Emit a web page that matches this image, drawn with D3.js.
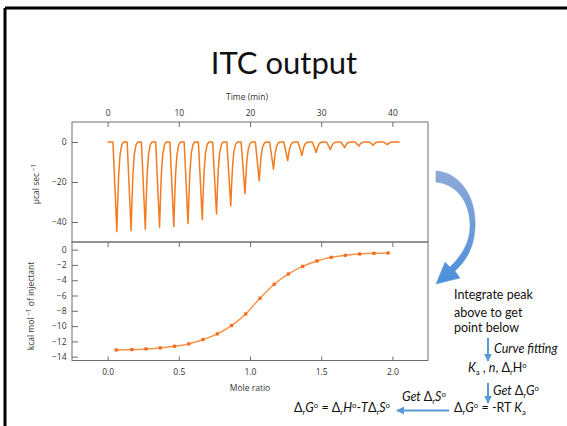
<!DOCTYPE html>
<html>
<head>
<meta charset="utf-8">
<script src="https://cdn.jsdelivr.net/npm/d3@7"></script>
<style>
  body { margin: 0; background: #fff; }
  svg { display: block; }
  .tick text { font-family: 'Open Sans', sans-serif; font-size: 8.5px; fill: #333; }
  .tick line { stroke: #6e6e6e; }
  .slide { font-family: Lato, 'Open Sans', sans-serif; fill: #111; }
</style>
</head>
<body>
<div id="chart"></div>
<script>
// raw thermogram: injection peak times (min) and peak depths (ucal/sec)
const peakTimes = [1.3, 3.3, 5.3, 7.3, 9.3, 11.3, 13.3, 15.3, 17.3, 19.3,
  21.3, 23.3, 25.3, 27.3, 29.3, 31.3, 33.3, 35.3, 37.3, 39.3];
const peakDepths = [-44.8, -44.4, -43.6, -42.6, -42.3, -40.8, -38.8, -36.0, -31.8, -25.9,
  -19.4, -13.6, -9.3, -6.8, -5.3, -3.8, -2.8, -2.0, -1.6, -1.3];
// shape of one peak: offset from tip (min), fraction of depth
const peakShapeDt = [-0.55, 0, 0.1, 0.25, 0.45, 0.7, 0.95];
const peakShapeFrac = [0, 1, 0.72, 0.38, 0.14, 0.03, 0];
const traceStart = 0;
const traceEnd = 41;

// integrated heats
const moleRatio = [0.06, 0.17, 0.27, 0.37, 0.47, 0.57, 0.67, 0.77, 0.87, 0.97,
  1.07, 1.17, 1.27, 1.37, 1.47, 1.57, 1.67, 1.77, 1.87, 1.97];
const heatPerMol = [-13.12, -13.07, -12.98, -12.85, -12.64, -12.33, -11.76, -11.02, -9.93, -8.41,
  -6.36, -4.53, -3.18, -2.18, -1.48, -1.00, -0.74, -0.57, -0.48, -0.44];

const timeTicks = [0, 10, 20, 30, 40];
const powerTicks = [0, -20, -40];
const moleTicks = [0, 0.5, 1.0, 1.5, 2.0];
const heatTicks = [0, -2, -4, -6, -8, -10, -12, -14];

const w = 567, h = 426;
const orange = '#f47b20';
const blue = '#5b9bd5';

const svg = d3.select('#chart').append('svg')
  .attr('width', w).attr('height', h);

const defs = svg.append('defs');
const grad = defs.append('linearGradient').attr('id', 'arcGrad')
  .attr('x1', 0).attr('y1', 0).attr('x2', 0).attr('y2', 1);
grad.append('stop').attr('offset', '0%').attr('stop-color', '#8ea8d8');
grad.append('stop').attr('offset', '100%').attr('stop-color', '#4a90dc');
const mk = defs.append('marker').attr('id', 'head')
  .attr('viewBox', '0 0 10 10').attr('refX', 9).attr('refY', 5)
  .attr('markerWidth', 4).attr('markerHeight', 4).attr('orient', 'auto');
mk.append('path').attr('d', 'M0,0 L10,5 L0,10 Z').attr('fill', blue);

// slide border (left + top)
svg.append('line').attr('x1', 5).attr('y1', 8).attr('x2', 5).attr('y2', h).attr('stroke', '#000').attr('stroke-width', 3);
svg.append('line').attr('x1', 5).attr('y1', 8).attr('x2', w).attr('y2', 8).attr('stroke', '#000').attr('stroke-width', 3);

svg.append('text').attr('class', 'slide')
  .attr('x', 284).attr('y', 74).attr('text-anchor', 'middle')
  .style('font-size', '31px').text('ITC output');

// scales
const left = 72, right = 428;
const xTime = d3.scaleLinear().domain([-5, 45]).range([left, right]);
const yPower = d3.scaleLinear().domain([-50, 10]).range([242, 122]);
const xMole = d3.scaleLinear().domain([-0.25, 2.25]).range([left, right]);
const yHeat = d3.scaleLinear().domain([-14.5, 1]).range([360.5, 242]);

function tidy(g) {
  g.select('.domain').remove();
}

// top panel axes
svg.append('g').attr('transform', 'translate(0,122)')
  .call(d3.axisTop(xTime).tickValues(timeTicks).tickSizeInner(-5).tickSizeOuter(0).tickPadding(6.5))
  .call(tidy);
svg.append('g').attr('transform', 'translate(' + left + ',0)')
  .call(d3.axisLeft(yPower).tickValues(powerTicks).tickSizeInner(-6).tickSizeOuter(0).tickPadding(5.5))
  .call(tidy);

// bottom panel axes
svg.append('g').attr('transform', 'translate(0,242)')
  .call(d3.axisTop(xMole).tickValues(moleTicks).tickSizeInner(-5).tickSizeOuter(0).tickFormat(''))
  .call(tidy);
svg.append('g').attr('transform', 'translate(0,360.5)')
  .call(d3.axisBottom(xMole).tickValues(moleTicks).tickSizeInner(-4).tickSizeOuter(0)
    .tickPadding(8.5).tickFormat(d3.format('.1f')))
  .call(tidy);
svg.append('g').attr('transform', 'translate(' + left + ',0)')
  .call(d3.axisLeft(yHeat).tickValues(heatTicks).tickSizeInner(-6).tickSizeOuter(0).tickPadding(5.5))
  .call(tidy);

// frames
svg.append('rect').attr('x', left).attr('y', 122).attr('width', right - left).attr('height', 120)
  .attr('fill', 'none').attr('stroke', '#6e6e6e');
svg.append('rect').attr('x', left).attr('y', 242).attr('width', right - left).attr('height', 118.5)
  .attr('fill', 'none').attr('stroke', '#6e6e6e');

// axis titles
const axisFont = "font-family:'Open Sans',sans-serif;font-size:8.5px;fill:#333";
svg.append('text').attr('style', axisFont).attr('x', 247).attr('y', 100)
  .attr('text-anchor', 'middle').text('Time (min)');
svg.append('text').attr('style', axisFont).attr('x', 250).attr('y', 391)
  .attr('text-anchor', 'middle').text('Mole ratio');

const yl1 = svg.append('text').attr('style', axisFont)
  .attr('transform', 'translate(39,184) rotate(-90)').attr('text-anchor', 'middle');
yl1.append('tspan').text('µcal sec');
yl1.append('tspan').attr('dy', -3).style('font-size', '6.5px').text(' −1');

const yl2 = svg.append('text').attr('style', axisFont)
  .attr('transform', 'translate(34,306) rotate(-90)').attr('text-anchor', 'middle');
yl2.append('tspan').text('kcal mol');
yl2.append('tspan').attr('dy', -3).style('font-size', '6.5px').text(' −1');
yl2.append('tspan').attr('dy', 3).text(' of injectant');

// thermogram trace
const trace = [[traceStart, 0]];
peakTimes.forEach(function (t, i) {
  peakShapeDt.forEach(function (dt, j) {
    trace.push([t + dt, peakDepths[i] * peakShapeFrac[j]]);
  });
});
trace.push([traceEnd, 0]);

svg.append('path').datum(trace)
  .attr('fill', 'none').attr('stroke', orange).attr('stroke-width', 1.5)
  .attr('stroke-linejoin', 'round')
  .attr('d', d3.line().x(d => xTime(d[0])).y(d => yPower(d[1])));

// binding isotherm
const iso = moleRatio.map((m, i) => [m, heatPerMol[i]]);
svg.append('path').datum(iso)
  .attr('fill', 'none').attr('stroke', '#f6934a').attr('stroke-width', 1.5)
  .attr('d', d3.line().curve(d3.curveMonotoneX).x(d => xMole(d[0])).y(d => yHeat(d[1])));
svg.append('g').selectAll('rect').data(iso).enter().append('rect')
  .attr('x', d => xMole(d[0]) - 1.6).attr('y', d => yHeat(d[1]) - 1.6)
  .attr('width', 3.2).attr('height', 3.2).attr('fill', '#f26a1b');

// curved arrow
svg.append('path')
  .attr('d', 'M436,171 C462,173 477,200 475,228 C474,248 466,261 455,271 L460,278 L436,284 L445,262 L450,267 C459,258 469,246 470,228 C471,203 457,184 436,182 Z')
  .attr('fill', 'url(#arcGrad)').attr('stroke', '#6f9bd3').attr('stroke-width', 0.5);

// notes
function rich(x, y, parts, fs, anchor) {
  const t = svg.append('text').attr('class', 'slide')
    .attr('x', x).attr('y', y).style('font-size', fs + 'px')
    .attr('text-anchor', anchor || 'start');
  let cur = 0;
  parts.forEach(function (p) {
    const k = p[1];
    const off = k === 'sub' ? fs * 0.25 : k === 'sup' ? -fs * 0.35 : 0;
    const ts = t.append('tspan').attr('dy', off - cur).text(p[0]);
    if (k === 'sub' || k === 'sup') ts.style('font-size', (fs * 0.62) + 'px');
    if (k === 'i') ts.style('font-style', 'italic');
    cur = off;
  });
  return t;
}

rich(454, 299, [['Integrate peak', 'n']], 12.5);
rich(454, 316.5, [['above to get', 'n']], 12.5);
rich(454, 332, [['point below', 'n']], 12.5);
rich(494, 353, [['Curve fitting', 'i']], 12.5);
rich(468, 372, [['K', 'i'], ['a', 'sub'], [' , ', 'n'], ['n', 'i'], [', Δ', 'n'], ['r', 'sub'], ['H', 'n'], ['o', 'sup']], 12.5);
rich(493, 395, [['Get ', 'i'], ['Δ', 'n'], ['r', 'sub'], ['G', 'i'], ['o', 'sup']], 12.5);
rich(454, 412, [['Δ', 'n'], ['r', 'sub'], ['G', 'i'], ['o', 'sup'], [' = -RT ', 'n'], ['K', 'i'], ['a', 'sub']], 12.5);
rich(402, 401, [['Get ', 'i'], ['Δ', 'n'], ['r', 'sub'], ['S', 'i'], ['o', 'sup']], 12.5);
rich(390, 412, [['Δ', 'n'], ['r', 'sub'], ['G', 'i'], ['o', 'sup'], [' = Δ', 'n'], ['r', 'sub'], ['H', 'i'], ['o', 'sup'],
  ['-', 'n'], ['T', 'i'], ['Δ', 'n'], ['r', 'sub'], ['S', 'i'], ['o', 'sup']], 12.5, 'end');

// small arrows
[[488, 338, 488, 361], [488, 383, 488, 403], [449, 410.5, 397, 410.5]].forEach(function (a) {
  svg.append('line').attr('x1', a[0]).attr('y1', a[1]).attr('x2', a[2]).attr('y2', a[3])
    .attr('stroke', blue).attr('stroke-width', 2).attr('marker-end', 'url(#head)');
});
</script>
</body>
</html>
